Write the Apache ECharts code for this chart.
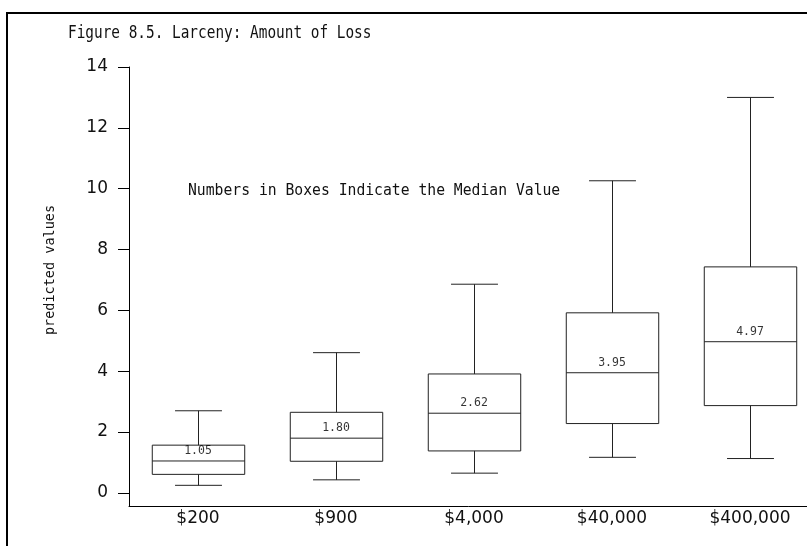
<!DOCTYPE html>
<html>
<head>
<meta charset="utf-8">
<script src="https://cdn.jsdelivr.net/npm/echarts@6/dist/echarts.min.js"></script>
<style>
  html, body { margin: 0; padding: 0; background: #fff; }
  #container { width: 807px; height: 546px; }
</style>
</head>
<body>
<div id="container"></div>
<script>
var categories = ['$200', '$900', '$4,000', '$40,000', '$400,000'];
var whiskerLow = [0.25, 0.43, 0.65, 1.17, 1.13];
var boxLow = [0.61, 1.04, 1.38, 2.28, 2.87];
var medians = [1.05, 1.80, 2.62, 3.95, 4.97];
var boxHigh = [1.57, 2.65, 3.91, 5.92, 7.43];
var whiskerHigh = [2.70, 4.61, 6.86, 10.26, 13.00];
var yTicks = [0, 2, 4, 6, 8, 10, 12, 14];

var lineColor = '#222';

function getBoxData() {
    var obj = [];
    for (var i = 0; i < categories.length; i++) {
        obj.push([i, whiskerLow[i], boxLow[i], medians[i], boxHigh[i], whiskerHigh[i]]);
    }
    return obj;
}

function getMedianPoints() {
    var obj = [];
    for (var i = 0; i < categories.length; i++) {
        obj.push([i, medians[i]]);
    }
    return obj;
}

// box + whiskers, caps are narrower than the box
function renderBox(params, api) {
    var i = api.value(0);
    var lo = api.coord([i, api.value(1)]);
    var q1 = api.coord([i, api.value(2)]);
    var med = api.coord([i, api.value(3)]);
    var q3 = api.coord([i, api.value(4)]);
    var hi = api.coord([i, api.value(5)]);
    var band = api.size([1, 0])[0];
    var bw = band * 0.67 / 2;
    var cw = band * 0.34 / 2;
    var x = Math.round(med[0]) + 0.5;
    var style = { stroke: lineColor, lineWidth: 1, fill: null };
    return {
        type: 'group',
        children: [
            { type: 'rect', shape: { x: x - bw, y: q3[1], width: bw * 2, height: q1[1] - q3[1] }, style: { stroke: lineColor, lineWidth: 1, fill: 'none' } },
            { type: 'line', shape: { x1: x - bw, y1: med[1], x2: x + bw, y2: med[1] }, style: style },
            { type: 'line', shape: { x1: x, y1: q3[1], x2: x, y2: hi[1] }, style: style },
            { type: 'line', shape: { x1: x, y1: q1[1], x2: x, y2: lo[1] }, style: style },
            { type: 'line', shape: { x1: x - cw, y1: hi[1], x2: x + cw, y2: hi[1] }, style: style },
            { type: 'line', shape: { x1: x - cw, y1: lo[1], x2: x + cw, y2: lo[1] }, style: style }
        ]
    };
}

var dom = document.getElementById('container');
var myChart = echarts.init(dom, null, { renderer: 'canvas' });

var option = {
    animation: false,
    backgroundColor: '#fff',
    graphic: [
        {
            type: 'polyline',
            shape: { points: [[7, 546], [7, 13], [807, 13]] },
            style: { stroke: '#000', lineWidth: 2, fill: null }
        },
        {
            type: 'text',
            x: 68, y: 33, scaleX: 0.8,
            style: {
                text: 'Figure 8.5. Larceny: Amount of Loss',
                fontFamily: 'DejaVu Sans Mono', fontSize: 18,
                fill: '#111', align: 'left', verticalAlign: 'middle'
            }
        },
        {
            type: 'text',
            x: 188, y: 191, scaleX: 0.92,
            style: {
                text: 'Numbers in Boxes Indicate the Median Value',
                fontFamily: 'DejaVu Sans Mono', fontSize: 16,
                fill: '#111', align: 'left', verticalAlign: 'middle'
            }
        },
        {
            type: 'text',
            x: 50, y: 270,
            rotation: Math.PI / 2,
            style: {
                text: 'predicted values',
                fontFamily: 'DejaVu Sans Mono', fontSize: 13.5,
                fill: '#111', align: 'center', verticalAlign: 'middle'
            }
        }
    ],
    grid: { left: 129, top: 67, width: 690, height: 439, containLabel: false, outerBoundsMode: 'none' },
    xAxis: {
        type: 'category',
        data: categories,
        axisLine: { show: true, onZero: false, lineStyle: { color: '#000', width: 1 } },
        axisTick: { show: false },
        splitLine: { show: false },
        axisLabel: { margin: 4, color: '#111', fontFamily: 'DejaVu Sans', fontSize: 17 }
    },
    yAxis: {
        type: 'value',
        min: -0.43,
        max: 14,
        axisLine: { show: true, lineStyle: { color: '#000', width: 1 } },
        axisTick: { show: true, length: 11, customValues: yTicks, lineStyle: { color: '#000' } },
        axisLabel: { customValues: yTicks, margin: 21, color: '#111', fontFamily: 'DejaVu Sans', fontSize: 17 },
        splitLine: { show: false }
    },
    series: [
        {
            type: 'custom',
            renderItem: renderBox,
            data: getBoxData(),
            encode: { x: 0, y: [1, 2, 3, 4, 5] },
            clip: false
        },
        {
            type: 'scatter',
            data: getMedianPoints(),
            symbolSize: 0,
            label: {
                show: true,
                position: 'top',
                distance: 4,
                formatter: function (p) { return p.value[1].toFixed(2); },
                fontFamily: 'DejaVu Sans Mono',
                fontSize: 11.5,
                color: '#000'
            }
        }
    ]
};

myChart.setOption(option);
</script>
</body>
</html>
